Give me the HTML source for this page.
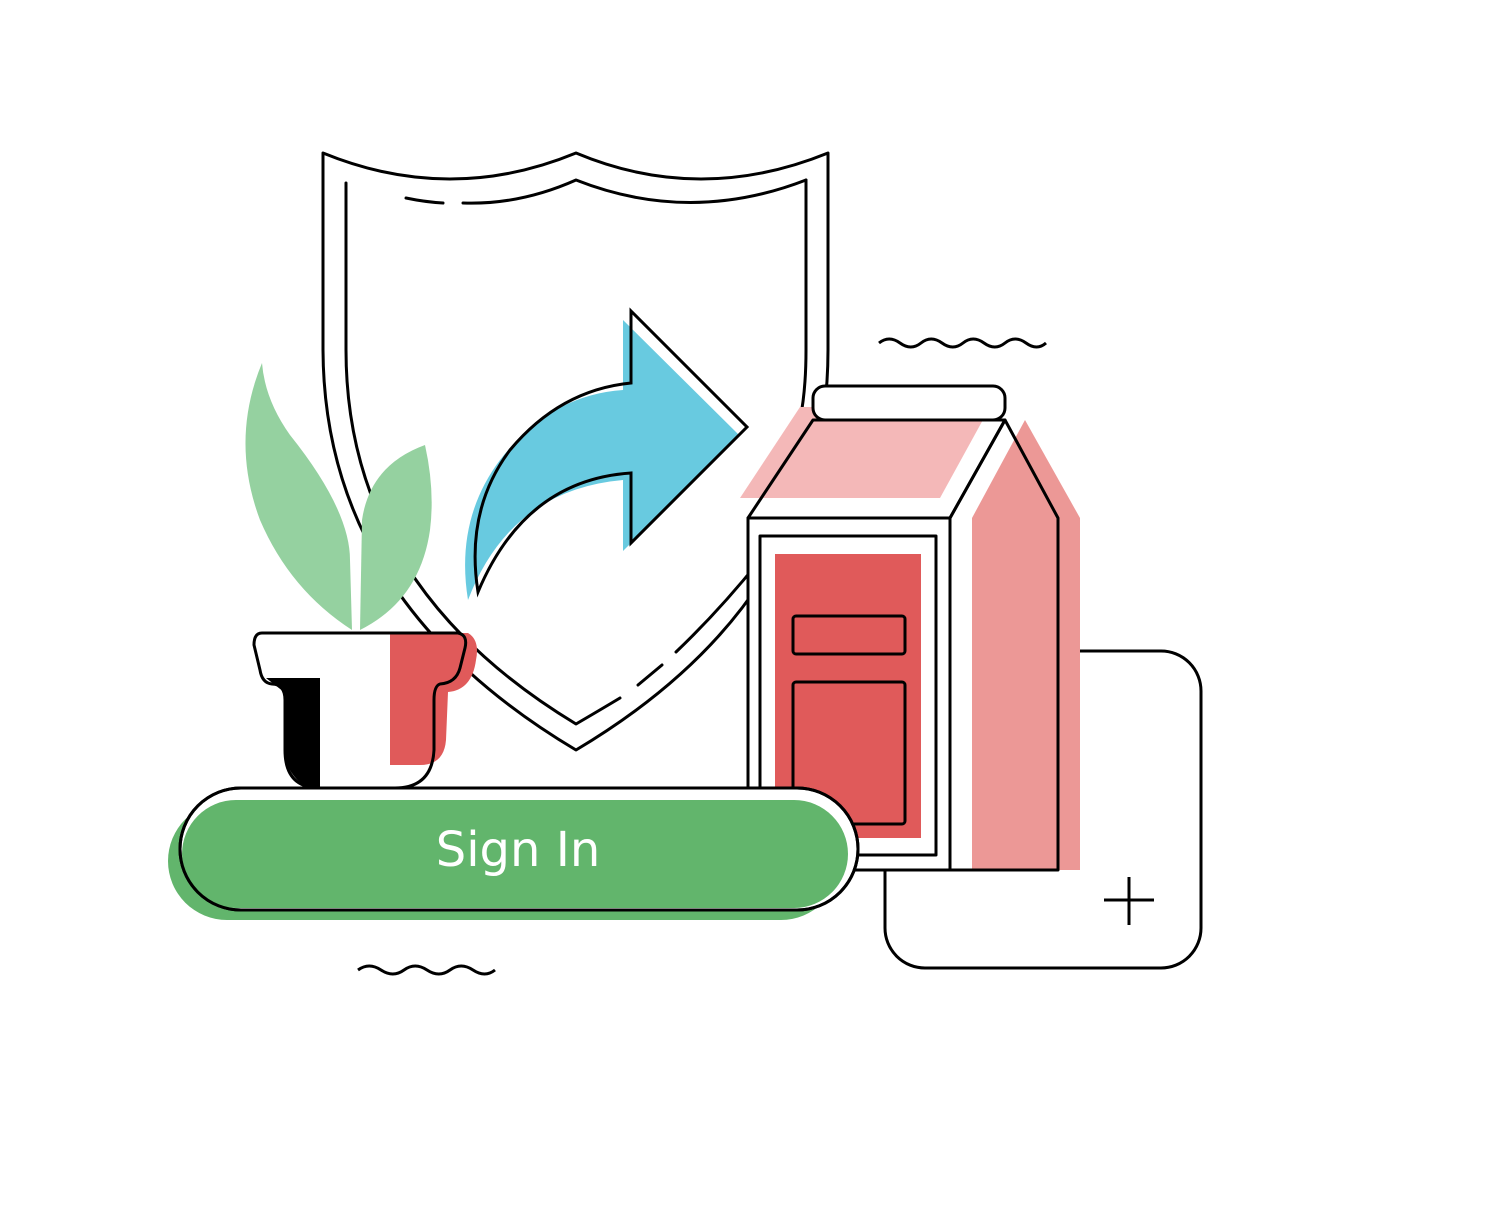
<!DOCTYPE html>
<html><head><meta charset="utf-8"><style>
html,body{margin:0;padding:0;background:#fff;}
svg{display:block}
</style></head><body>
<svg width="1500" height="1212" viewBox="0 0 1500 1212" xmlns="http://www.w3.org/2000/svg">
<g fill="none" stroke="#000" stroke-width="3" stroke-linecap="round" stroke-linejoin="round">
<!-- shield outer -->
<path d="M323,153 Q450,205 576,153 Q700,205 828,153 L828,350 Q828,600 576,750 Q324,600 323,350 Z" fill="#fff"/>
<!-- shield inner -->
<path d="M346,183 L346,350 Q346,585 576,724 Q600,710 620,698"/>
<path d="M638,685 L662,665"/>
<path d="M676,652 Q720,610 760,560"/>
<path d="M806,180 L806,350 Q806,390 800,420"/>
<path d="M406,198 Q425,202 443,203"/>
<path d="M463,203 Q520,205 576,180 Q690,225 806,180"/>
</g>
<!-- box behind -->
<rect x="885" y="651" width="316" height="317" rx="40" fill="#fff" stroke="#000" stroke-width="3"/>
<path d="M1129,877 V925 M1104,900 H1154" stroke="#000" stroke-width="3"/>
<!-- arrow -->
<path d="M623,320 L739,435 L623,551 L623,480 Q510,490 468,600 Q455,520 500,460 Q550,395 623,390 Z" fill="#68cae0"/>
<path d="M631,311 L747,427 L631,543 L631,473 Q525,480 478,592 Q465,510 510,450 Q560,390 631,383 Z" fill="none" stroke="#000" stroke-width="3" stroke-linejoin="miter"/>
<!-- carton white silhouette -->
<path d="M748,518 L813,420 L813,386 L1005,386 L1005,420 L1058,518 L1058,870 L748,870 Z" fill="#fff"/>
<path d="M740,498 L800,407 L990,407 L940,498 Z" fill="#f4b8b8"/>
<path d="M972,518 L1025,420 L1080,518 L1080,870 L972,870 Z" fill="#ec9896"/>
<g stroke="#000" stroke-width="3" stroke-linejoin="round">
<rect x="813" y="386" width="192" height="34" rx="12" fill="#fff"/>
<path d="M813,420 L1005,420 L950,518 L748,518 Z" fill="none"/>
<path d="M950,518 L1005,420 L1058,518 L1058,870 L950,870" fill="none"/>
<rect x="748" y="518" width="202" height="352" fill="none"/>
<rect x="760" y="536" width="176" height="319" fill="#fff"/>
</g>
<rect x="775" y="554" width="146" height="284" fill="#e05a5a"/>
<rect x="793" y="616" width="112" height="38" rx="3" fill="none" stroke="#000" stroke-width="3"/>
<rect x="793" y="682" width="112" height="142" rx="3" fill="none" stroke="#000" stroke-width="3"/>
<!-- plant -->
<path d="M262,363 Q265,400 290,435 Q350,510 350,560 L352,630 Q290,590 260,520 Q230,440 262,363 Z" fill="#95d1a0"/>
<path d="M425,445 Q370,465 362,520 L360,630 Q420,600 430,530 Q435,490 425,445 Z" fill="#95d1a0"/>
<!-- pot -->
<path d="M390,633 L468,633 Q480,640 476,660 Q472,690 448,692 L446,740 Q444,765 420,765 L390,765 Z" fill="#e05a5a"/>
<path d="M266,678 L320,678 L320,790 L305,786 Q284,772 284,745 L284,692 Z" fill="#000"/>
<path d="M262,633 L458,633 Q468,635 465,648 L460,668 Q456,683 440,684 Q434,686 434,700 L434,750 Q432,788 395,788 L320,788 Q285,788 285,750 L285,700 Q285,684 272,684 Q262,683 260,670 L254,645 Q254,633 262,633 Z" fill="none" stroke="#000" stroke-width="3"/>
<!-- button -->
<rect x="168" y="802" width="672" height="118" rx="59" fill="#62b56c"/>
<rect x="180" y="788" width="678" height="122" rx="61" fill="#fff" stroke="#000" stroke-width="3"/>
<rect x="182" y="800" width="666" height="108" rx="54" fill="#62b56c"/>
<rect x="180" y="788" width="678" height="122" rx="61" fill="none" stroke="#000" stroke-width="3"/>
<text x="518" y="866" text-anchor="middle" font-family="DejaVu Sans, Liberation Sans, sans-serif" font-size="48" fill="#fff">Sign In</text>
<!-- squiggles -->
<path d="M879,343 q10,-8 21,0 t21,0 t21,0 t21,0 t21,0 t21,0 t21,0 t20,0" fill="none" stroke="#000" stroke-width="3"/>
<path d="M358,970 q11,-8 23,0 t23,0 t23,0 t23,0 t23,0 t22,0" fill="none" stroke="#000" stroke-width="3"/>
</svg>
</body></html>
